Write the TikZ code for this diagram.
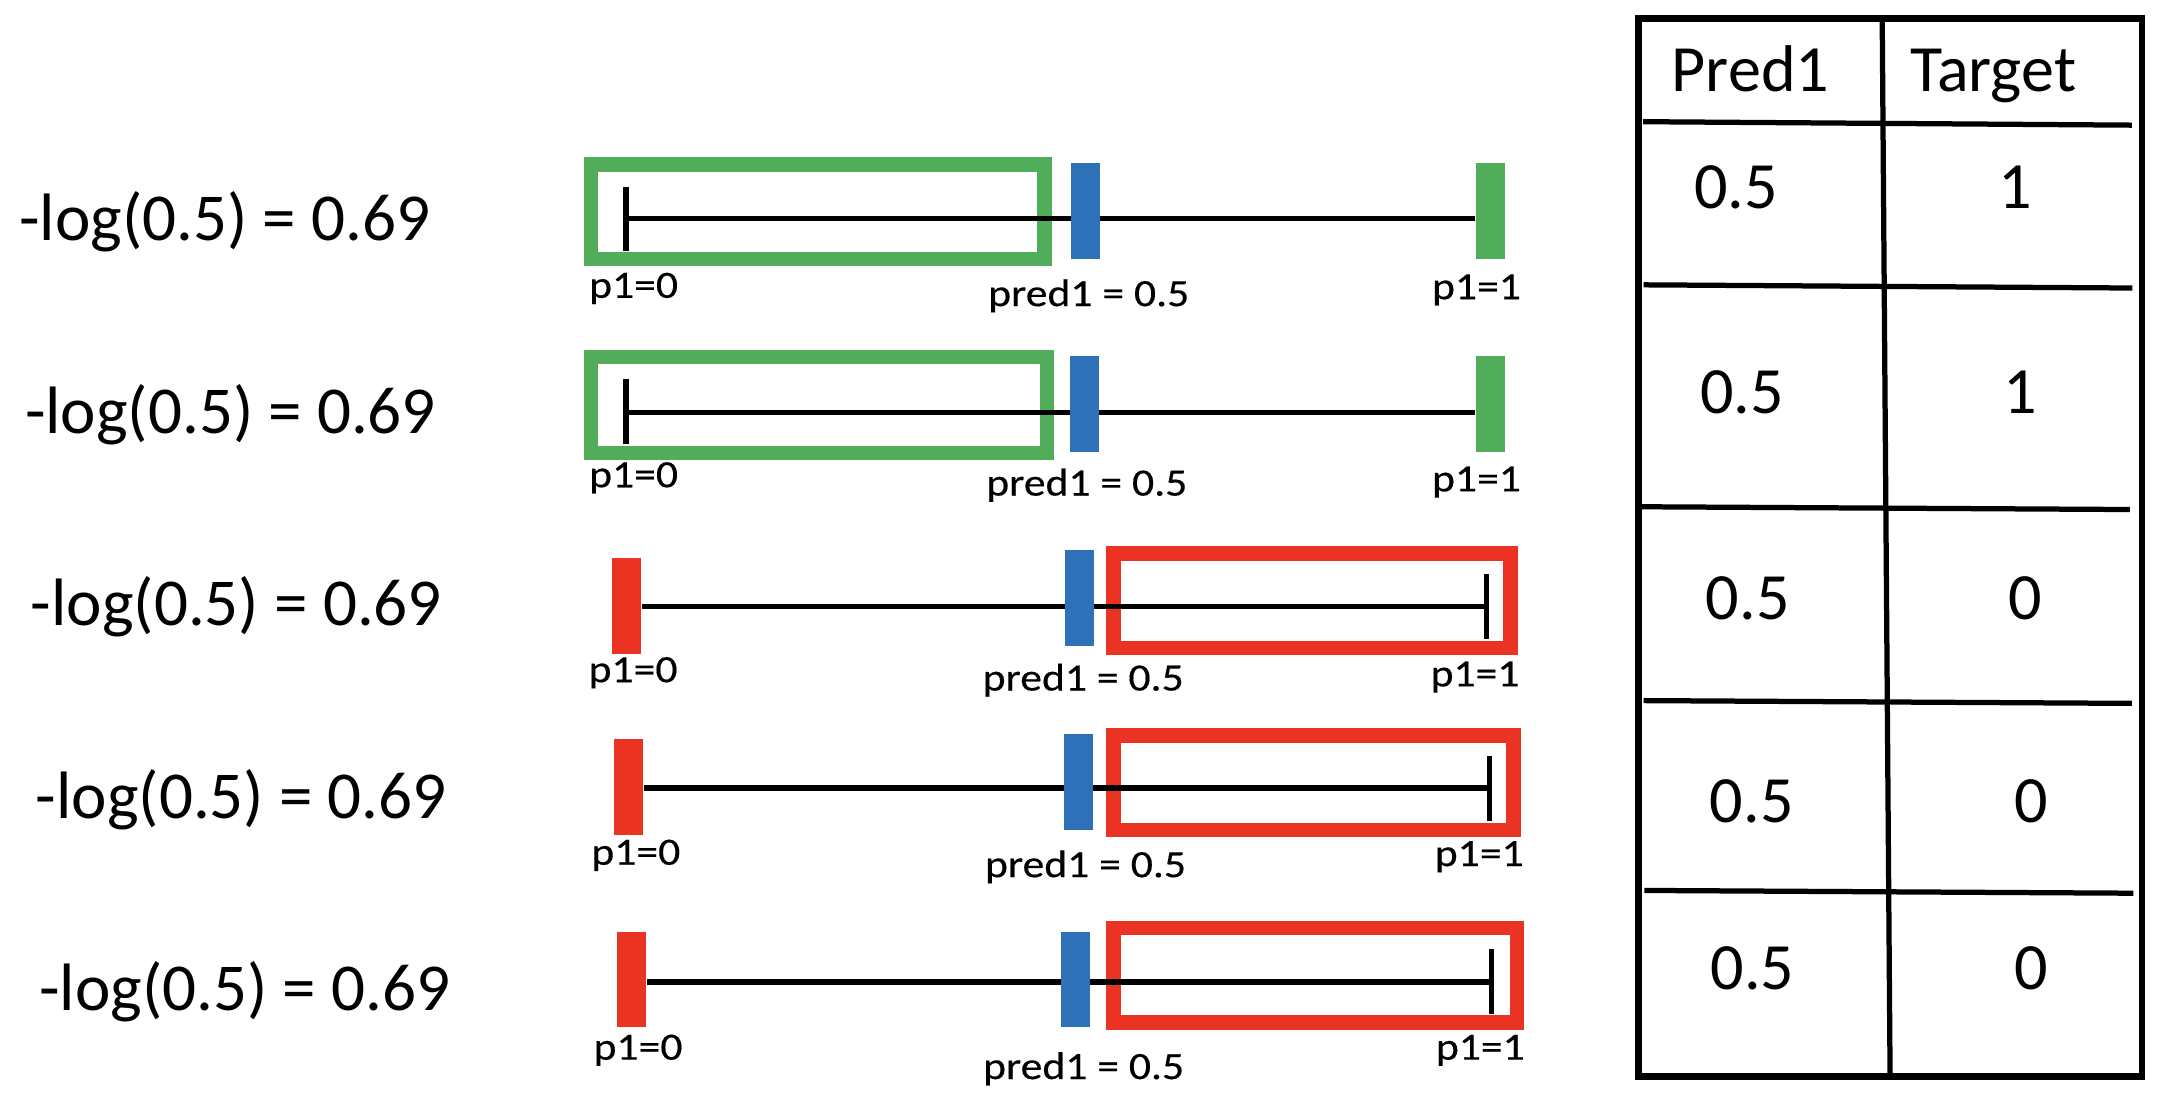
\documentclass[tikz,border=0pt]{standalone}
\usepackage{fontspec}
\setmainfont{Carlito}
\newfontfamily\ticklabelfont[FakeStretch=1.13, FakeBold=0.35]{Carlito}
\usetikzlibrary{positioning, calc}

\definecolor{hitgreen}{HTML}{52AD5B}
\definecolor{predblue}{HTML}{2F71B9}
\definecolor{missred}{HTML}{EA3323}

\tikzset{
  loss/.style={anchor=base west, inner sep=0pt, font=\fontsize{13.8}{16}\selectfont},
  cell/.style={anchor=base, inner sep=0pt, font=\fontsize{13.6}{16}\selectfont},
  end label/.style={anchor=mid west, inner sep=0pt, font=\ticklabelfont\fontsize{7.95}{9}\selectfont},
  bar/.style={rectangle, inner sep=0pt, minimum width=2.1mm, minimum height=6.9mm},
  axis line/.style={line width=1.1pt},
  end tick/.style={line width=1.1pt},
  frame/.style={line width=3pt},
  rule/.style={line width=1.08pt},
  outer rule/.style={line width=1.33pt}
}

\begin{document}
\begin{tikzpicture}[x=0.1mm, y=-0.1mm]
  \useasboundingbox (0,0) rectangle (1568,798);

  % losses on the left
  \node[loss] (loss1) at (13.3,173.6) {-log(0.5) = 0.69};
  \node[loss] (loss2) at (17.4,313.4) {-log(0.5) = 0.69};
  \node[loss] (loss3) at (21.7,452.7) {-log(0.5) = 0.69};
  \node[loss] (loss4) at (25.3,591.9) {-log(0.5) = 0.69};
  \node[loss] (loss5) at (27.7,730.5) {-log(0.5) = 0.69};

  % target 1 rows
  \draw[frame, hitgreen] (427.5,119) rectangle (755.5,187.2);
  \draw[frame, hitgreen] (427.5,258.3) rectangle (757.3,327.5);
  \coordinate (a1) at (452.7,158);
  \coordinate (a2) at (452.7,298.5);
  \node[bar, fill=hitgreen] (g1) at (1077.8,152.5) {};
  \node[bar, fill=hitgreen] (g2) at (1077.8,292.1) {};
  \draw[axis line] (a1) -- (a1 -| g1.west);
  \draw[axis line] (a2) -- (a2 -| g2.west);
  \draw[end tick] (452.7,135) -- (452.7,181.5);
  \draw[end tick] (452.7,274.4) -- (452.7,321.1);
  \node[bar, fill=predblue] (b1) at (785.2,152.5) {};
  \node[bar, fill=predblue] (b2) at (784.5,292.1) {};

  % target 0 rows
  \draw[frame, missred] (805.4,400.4) rectangle (1092.6,468.8);
  \draw[frame, missred] (805.4,532) rectangle (1094.8,600.4);
  \draw[frame, missred] (805.4,671.3) rectangle (1097.2,739.7);
  \node[bar, fill=missred] (r3) at (453,438.4) {};
  \node[bar, fill=missred] (r4) at (454.7,569.2) {};
  \node[bar, fill=missred] (r5) at (456.5,708.6) {};
  \coordinate (a3) at (1075,438.8);
  \coordinate (a4) at (1077.4,570);
  \coordinate (a5) at (1078.7,710.2);
  \draw[axis line] (a3 -| r3.east) -- (a3);
  \draw[axis line] (a4 -| r4.east) -- (a4);
  \draw[axis line] (a5 -| r5.east) -- (a5);
  \draw[end tick] (1075,415) -- (1075,462);
  \draw[end tick] (1077.4,546.6) -- (1077.4,594);
  \draw[end tick] (1078.7,686) -- (1078.7,733.5);
  \node[bar, fill=predblue] (b3) at (780.7,432.5) {};
  \node[bar, fill=predblue] (b4) at (780,565.6) {};
  \node[bar, fill=predblue] (b5) at (778,708.6) {};

  % end and prediction labels
  \foreach \i/\xa/\ya/\xb/\yb/\xc/\yc in {1/425.4/207/714/213/1035/208,
                                          2/425.4/344/712.6/350/1035/347,
                                          3/425/485/710/491/1034/488,
                                          4/427/617/711.7/626/1037/618,
                                          5/428.6/758/710.3/772/1037.8/758}{
    \node[end label] (zero\i) at (\xa,\ya) {p1=0};
    \node[end label] (pred\i) at (\xb,\yb) {pred1 = 0.5};
    \node[end label] (one\i) at (\xc,\yc) {p1=1};
  }

  % table
  \draw[outer rule] (1185,13.3) rectangle (1549,778.5);
  \draw[rule] (1361.3,13.3) -- (1367,778.5);
  \foreach \xl/\yl/\xr/\yr in {1188.3/88/1541.8/90.5, 1188.8/206/1542.3/208.3,
                               1187.5/366.5/1540.4/368.5, 1188.8/506.7/1541.8/508.7,
                               1189.3/644/1543/646}
    \draw[rule] (\xl,\yl) -- (\xr,\yr);
  \node[cell] (head-pred) at (1266,66.3) {Pred1};
  \node[cell] (head-target) at (1441.5,66.3) {Target};
  \foreach \i/\xp/\xt/\yb/\t in {1/1255.6/1457.5/150.7/1, 2/1260/1461/299/1,
                                 3/1264/1465/447.7/0, 4/1267/1469/595/0,
                                 5/1267.5/1469/715.5/0}{
    \node[cell] (cell-pred\i) at (\xp,\yb) {0.5};
    \node[cell] (cell-target\i) at (\xt,\yb) {\t};
  }
\end{tikzpicture}
\end{document}
